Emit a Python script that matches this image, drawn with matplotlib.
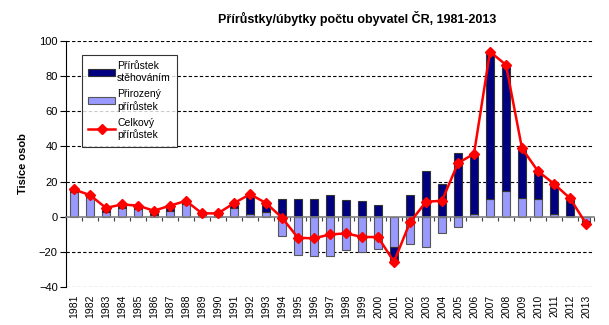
import matplotlib
matplotlib.use('Agg')
import matplotlib.pyplot as plt
import numpy as np
from matplotlib.transforms import blended_transform_factory

plt.rcParams['font.family'] = ['Liberation Sans', 'DejaVu Sans']

years = [str(y) for y in range(1981, 2014)]
# thousands of persons
natural = [14.3, 11.0, 2.5, 5.0, 4.5, 1.0, 3.4, 7.5, 1.5, 1.2,
           4.7, 1.5, 2.4, -10.8, -22.0, -22.3, -22.2, -19.0, -20.3, -18.1,
           -17.0, -15.5, -17.5, -9.5, -5.7, 1.4, 10.0, 14.6, 10.9, 10.3,
           1.8, 0.2, -2.3]
migration = [1.2, 1.3, 2.5, 2.0, 1.8, 2.4, 2.9, 1.5, 0.4, 0.7,
             3.0, 11.3, 5.4, 10.2, 10.0, 10.0, 12.1, 9.5, 8.8, 6.5,
             -8.6, 12.3, 26.0, 18.6, 36.2, 34.4, 83.9, 71.8, 28.0, 15.6,
             16.9, 10.3, -1.6]

natural = np.array(natural)
migration = np.array(migration)
total = natural + migration
x = np.arange(len(years))

navy = '#000080'
lilac = '#9999FF'

fig = plt.figure(figsize=(6.09, 3.25), dpi=100)
ax = fig.add_axes([66/609, 1-287/325, (594-66)/609, (287-41)/325])

# stacking: migration sits on top of natural when same sign, else starts at 0
mig_bottom = np.where(np.sign(migration) == np.sign(natural), natural, 0)

for yv in range(-40, 101, 20):
    if yv != 0:
        ax.axhline(yv, color='black', linestyle=(0, (3, 2)), linewidth=0.8, zorder=0)

w = 0.46
b_nat = ax.bar(x, natural, w, color=lilac, edgecolor='#555555', linewidth=0.8,
               zorder=2, label='Přirozený\npřírůstek')
b_mig = ax.bar(x, migration, w, bottom=mig_bottom, color=navy, edgecolor='#333333',
               linewidth=0.8, zorder=2, label='Přírůstek\nstěhováním')
ln, = ax.plot(x, total, color='#FF0000', linewidth=1.8, marker='D', markersize=5,
              zorder=3, label='Celkový\npřírůstek')

ax.set_xlim(-0.5, len(years) - 0.5)
ax.set_ylim(-40, 100)
ax.set_yticks(range(-40, 101, 20))
ax.tick_params(axis='y', direction='out', length=4, labelsize=8, pad=2)

for s in ['top', 'right']:
    ax.spines[s].set_visible(False)
ax.spines['bottom'].set_position(('data', 0))
ax.spines['bottom'].set_color('#808080')
ax.spines['bottom'].set_linewidth(1.2)
ax.set_xticks(np.arange(len(years) + 1) - 0.5)
ax.set_xticklabels([])
ax.tick_params(axis='x', direction='out', length=3, color='#404040')

trans = blended_transform_factory(ax.transData, ax.transAxes)
for i, lab in enumerate(years):
    ax.text(i, -0.03, lab, transform=trans, rotation=90, ha='center',
            va='top', fontsize=7.5)

ax.set_ylabel('Tisíce osob', fontsize=8, fontweight='bold', labelpad=8)

leg = ax.legend([b_mig, b_nat, ln],
                ['Přírůstek\nstěhováním', 'Přirozený\npřírůstek', 'Celkový\npřírůstek'],
                loc='upper left', bbox_to_anchor=(0.02, 0.965), fontsize=7.5,
                frameon=True, fancybox=False, edgecolor='black',
                handlelength=2.6, handletextpad=0.2, labelspacing=0.6,
                borderpad=0.6)
leg.get_frame().set_linewidth(0.8)

fig.text(357/609, 1-18/325, 'Přírůstky/úbytky počtu obyvatel ČR, 1981-2013',
         ha='center', va='center', fontsize=9, fontweight='bold')

fig.savefig('out.png', dpi=100)
